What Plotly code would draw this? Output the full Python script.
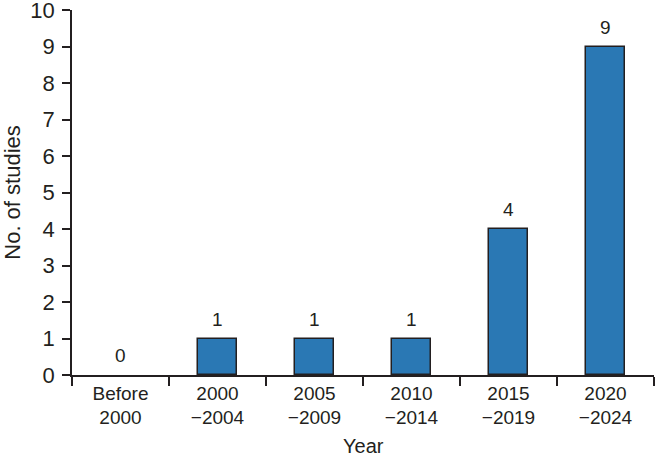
import plotly.graph_objects as go

categories = ["Before<br>2000", "2000<br>−2004", "2005<br>−2009", "2010<br>−2014", "2015<br>−2019", "2020<br>−2024"]
counts = [0, 1, 1, 1, 4, 9]
y_ticks = list(range(0, 11))

dark = "#231f20"
family = "Liberation Sans, Arial, sans-serif"
font = dict(family=family, size=19, color=dark)
yfont = dict(family=family, size=22, color=dark)

fig = go.Figure()
fig.add_trace(go.Bar(
    x=categories, y=counts, width=0.41,
    marker=dict(color="#2a78b4",
                line=dict(color=dark, width=[0 if v == 0 else 1.5 for v in counts])),
    showlegend=False, hoverinfo="skip",
))
for c, v in zip(categories, counts):
    fig.add_annotation(x=c, y=v, text=str(v), showarrow=False,
                       yanchor="bottom", yshift=7, font=font)

fig.add_annotation(xref="paper", yref="paper", x=0.5, y=0, yshift=-71,
                   text="Year", showarrow=False, yanchor="middle",
                   font=dict(family=family, size=20, color=dark))

fig.update_layout(
    width=655, height=460,
    margin=dict(l=72, r=1, t=10, b=85, autoexpand=False),
    paper_bgcolor="white", plot_bgcolor="white",
    font=font,
    bargap=0,
)
fig.update_xaxes(
    type="category", range=[-0.5, 5.5],
    showline=True, linecolor=dark, linewidth=1.5,
    ticks="outside", tickson="boundaries", ticklen=9, tickcolor=dark, tickwidth=1.5,
    showgrid=False, zeroline=False,
    tickfont=font, automargin=False,
)
fig.update_yaxes(
    range=[0, 10], tickvals=y_ticks,
    showline=True, linecolor=dark, linewidth=1.5,
    ticks="outside", ticklen=8, tickcolor=dark, tickwidth=1.5,
    showgrid=False, zeroline=False, ticklabeloverflow="allow", ticklabelstandoff=3,
    title=dict(text="No. of studies", font=yfont, standoff=6),
    tickfont=yfont, automargin=False,
)

fig.write_html("out.html", config={"displayModeBar": False},
               post_script="document.body.style.margin='0';")
